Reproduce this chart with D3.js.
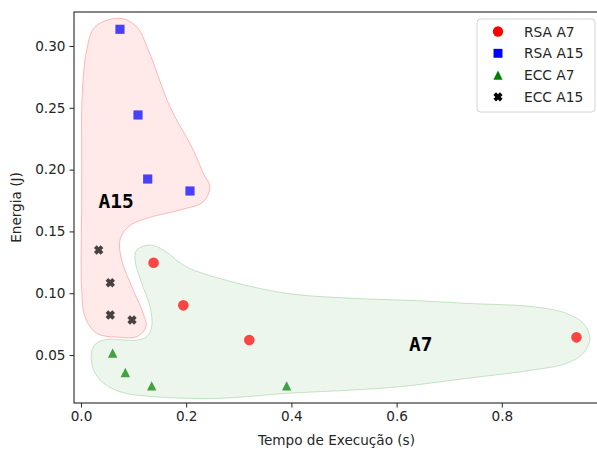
<!DOCTYPE html>
<html><head><meta charset="utf-8">
<script src="https://cdn.jsdelivr.net/npm/d3@7"></script>
<style>body{margin:0;background:#fff} svg{display:block} text{font-family:"DejaVu Sans",sans-serif}</style>
</head><body><svg id="c" width="597" height="451"></svg>
<script>
// ---- data ----
const seriesNames = ["RSA A7", "RSA A15", "ECC A7", "ECC A15"];
const rsaA7  = [[0.138,0.1247],[0.1945,0.0902],[0.320,0.0621],[0.942,0.0643]];
const rsaA15 = [[0.0741,0.3135],[0.1084,0.2442],[0.1268,0.1924],[0.2072,0.1827]];
const eccA7  = [[0.0602,0.0516],[0.0843,0.0359],[0.1344,0.0251],[0.391,0.0251]];
const eccA15 = [[0.0336,0.1350],[0.0557,0.1085],[0.0557,0.0824],[0.097,0.0783]];
const xTicks = [0.0, 0.2, 0.4, 0.6, 0.8];
const yTicks = [0.05, 0.10, 0.15, 0.20, 0.25, 0.30];
const groupLabels = ["A15", "A7"];
const groupLabelPos = [[0.067,0.174],[0.646,0.0589]];
// outlines of the two shaded groups (data units)
const outlineA15 = [[0.0741,0.3224],[0.1059,0.3156],[0.128,0.2968],[0.1692,0.2509],[0.2135,0.2159],
 [0.2325,0.197],[0.2452,0.1862],[0.2325,0.174],[0.1882,0.1673],[0.1249,0.1606],[0.0899,0.1538],[0.0741,0.143],
 [0.0774,0.1269],[0.0994,0.1026],[0.1184,0.0837],[0.1236,0.0729],[0.1059,0.0648],[0.0741,0.0643],[0.0298,0.0676],
 [0.0076,0.081],[0.0013,0.1026],[0.0013,0.1754],[0.0013,0.2159],[0.0013,0.2482],[0.0044,0.2752],[0.0108,0.2968],[0.0266,0.3156]];
const outlineA7 = [[0.1312,0.139],[0.1565,0.135],[0.1977,0.122],[0.2643,0.1119],
 [0.3911,0.0999],[0.5177,0.0959],[0.6445,0.0939],[0.7333,0.0918],[0.8599,0.0891],[0.9234,0.0837],[0.955,0.0756],
 [0.9677,0.0635],[0.955,0.0514],[0.9234,0.0433],[0.8599,0.0379],[0.7333,0.0311],[0.6065,0.0244],[0.5177,0.0217],
 [0.3911,0.019],[0.2643,0.015],[0.1375,0.0163],[0.0741,0.0203],[0.0361,0.0298],[0.0203,0.0433],[0.0234,0.0567],
 [0.0424,0.0621],[0.1059,0.0621],[0.1249,0.0648],[0.1344,0.0729],[0.1312,0.0891],[0.1154,0.108],[0.1027,0.1269],[0.1059,0.135]];

// ---- layout ----
const svg = d3.select("#c");
const L = 74, R = 599, T = 12, B = 403;
const x = d3.scaleLinear().domain([-0.0133, 0.9848]).range([L, R]);
const y = d3.scaleLinear().domain([0.0112, 0.3275]).range([B, T]);

const outline = d3.line().x(d => x(d[0])).y(d => y(d[1])).curve(d3.curveCatmullRomClosed.alpha(0.5));
svg.append("path").attr("d", outline(outlineA15)).attr("fill", "rgba(255,0,0,0.085)").attr("stroke", "rgba(255,0,0,0.25)").attr("stroke-width", 1);
svg.append("path").attr("d", outline(outlineA7)).attr("fill", "rgba(0,128,0,0.075)").attr("stroke", "rgba(0,128,0,0.2)").attr("stroke-width", 1);

// custom marker shapes
const triType = { draw(ctx, size) { const r = Math.sqrt(size) / 2; ctx.moveTo(0, -r); ctx.lineTo(r, r); ctx.lineTo(-r, r); ctx.closePath(); } };
const xType = { draw(ctx, size) {
  const r = Math.sqrt(size) / 2, a = r * 0.4;
  const pts = [[-r,-a],[-a,-a],[-a,-r],[a,-r],[a,-a],[r,-a],[r,a],[a,a],[a,r],[-a,r],[-a,a],[-r,a]];
  const c = Math.SQRT1_2;
  pts.forEach((p, i) => { const px = (p[0] - p[1]) * c, py = (p[0] + p[1]) * c; i ? ctx.lineTo(px, py) : ctx.moveTo(px, py); });
  ctx.closePath(); } };

const series = [
  {name: seriesNames[0], data: rsaA7,  type: d3.symbolCircle, size: 88, color: "#ff0000"},
  {name: seriesNames[1], data: rsaA15, type: d3.symbolSquare, size: 84, color: "#0000ff"},
  {name: seriesNames[2], data: eccA7,  type: triType,         size: 88, color: "#008000"},
  {name: seriesNames[3], data: eccA15, type: xType,           size: 90, color: "#000000"}
];
series.forEach(s => {
  svg.append("g").selectAll("path").data(s.data).join("path")
    .attr("transform", d => `translate(${x(d[0])},${y(d[1])})`)
    .attr("d", d3.symbol().type(s.type).size(s.size))
    .attr("fill", s.color).attr("fill-opacity", 0.72);
});

// group labels
svg.append("g").selectAll("text").data(groupLabels).join("text")
  .attr("x", (d, i) => x(groupLabelPos[i][0])).attr("y", (d, i) => y(groupLabelPos[i][1]))
  .attr("text-anchor", "middle").attr("dominant-baseline", "central")
  .style("font-family", "'DejaVu Sans Mono', monospace").style("font-weight", "bold").style("font-size", "19.5px")
  .attr("fill", "#000").text(d => d);

// axes
const xAxis = svg.append("g").attr("transform", `translate(0,${B})`)
  .call(d3.axisBottom(x).tickValues(xTicks).tickFormat(d3.format(".1f")).tickSize(4.5).tickPadding(4).tickSizeOuter(0));
const yAxis = svg.append("g").attr("transform", `translate(${L},0)`)
  .call(d3.axisLeft(y).tickValues(yTicks).tickFormat(d3.format(".2f")).tickSize(4.5).tickPadding(4).tickSizeOuter(0));
[xAxis, yAxis].forEach(g => {
  g.selectAll("text").style("font-size", "13.6px").style("font-family", "'DejaVu Sans', sans-serif").attr("fill", "#262626");
  g.selectAll("line").attr("stroke", "#262626");
  g.select(".domain").remove();
});
// spines
svg.append("rect").attr("x", L).attr("y", T).attr("width", R - L).attr("height", B - T)
  .attr("fill", "none").attr("stroke", "#262626").attr("stroke-width", 1.1);

svg.append("text").attr("x", (L + R) / 2).attr("y", 445).attr("text-anchor", "middle")
  .style("font-size", "13.6px").attr("fill", "#262626").text("Tempo de Execução (s)");
svg.append("text").attr("transform", `translate(21,${(T + B) / 2}) rotate(-90)`).attr("text-anchor", "middle")
  .style("font-size", "13.6px").attr("fill", "#262626").text("Energia (J)");

// legend
const lg = svg.append("g");
lg.append("rect").attr("x", 477).attr("y", 19).attr("width", 118).attr("height", 93).attr("rx", 3.5)
  .attr("fill", "#fff").attr("fill-opacity", 0.85).attr("stroke", "#d4d4d4");
series.forEach((s, i) => {
  const yy = 31.5 + i * 21.8;
  lg.append("path").attr("transform", `translate(498,${yy})`)
    .attr("d", d3.symbol().type(s.type).size(s.size * 0.95)).attr("fill", s.color);
  lg.append("text").attr("x", 524).attr("y", yy).attr("dominant-baseline", "central")
    .style("font-size", "13.8px").attr("fill", "#262626").text(s.name);
});
</script></body></html>
